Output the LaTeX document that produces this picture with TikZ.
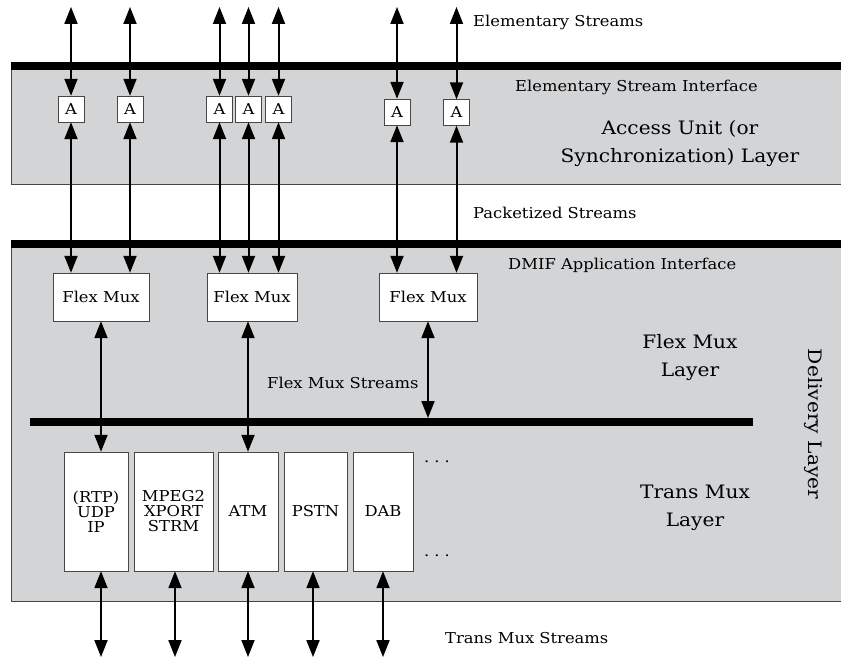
\documentclass[tikz,border=0pt]{standalone}
\usepackage{fontspec}
\setmainfont[FakeStretch=1.09]{DejaVu Serif}
\usepackage{tikz}
\usetikzlibrary{arrows.meta}
\definecolor{layergray}{RGB}{211,212,214}
\definecolor{edgegray}{RGB}{70,70,70}
\newcommand{\smallfont}{\fontsize{15}{15}\selectfont}
\newcommand{\bigfont}{\fontsize{18.5}{28}\selectfont}

\begin{document}
\begin{tikzpicture}[x=1pt,y=-1pt]

\tikzset{layer/.style={draw=edgegray,line width=0.9pt},
    bus/.style={line width=8pt,black},
    abox/.style={draw=edgegray,fill=white,minimum width=26pt,minimum height=26pt,inner sep=0pt,font=\smallfont},
    fmbox/.style={draw=edgegray,fill=white,minimum height=48pt,inner sep=0pt,font=\smallfont},
    tmbox/.style={draw=edgegray,fill=white,minimum height=119pt,inner sep=0pt,align=center,font=\smallfont},
    stream/.style={line width=2pt,{Triangle[length=17pt,width=13pt]}-{Triangle[length=17pt,width=13pt]}},
    lbl/.style={anchor=west,inner sep=0pt,font=\smallfont},
    biglbl/.style={align=center,inner sep=0pt,font=\bigfont}}

\useasboundingbox (0,0) rectangle (841,658);
\clip (0,0) rectangle (841,658);
\fill[white] (0,0) rectangle (841,658);

\fill[layergray] (11,66) rectangle (850,184);
\draw[layer] (11,66) -- (11,184) -- (850,184);
\draw[bus] (11,66) -- (850,66);

\fill[layergray] (11,244) rectangle (850,601);
\draw[layer] (11,244) -- (11,601) -- (850,601);
\draw[bus] (11,244) -- (850,244);

\coordinate (busl) at (30,422);
\coordinate (busr) at (753,422);
\draw[bus] (busl) -- (busr);

\node[abox] (a1) at (71,109) {A};
\node[abox] (a2) at (130,109) {A};
\node[abox] (a3) at (219.5,109) {A};
\node[abox] (a4) at (248.5,109) {A};
\node[abox] (a5) at (278.5,109) {A};
\node[abox] (a6) at (397,112) {A};
\node[abox] (a7) at (456.5,112.5) {A};

\node[fmbox,minimum width=96pt] (fm1) at (101,297) {Flex Mux};
\node[fmbox,minimum width=90pt] (fm2) at (252,297) {Flex Mux};
\node[fmbox,minimum width=98pt] (fm3) at (428,297) {Flex Mux};

\node[tmbox,minimum width=64pt] (rtp) at (96,511.5) {(RTP)\\UDP\\IP};
\node[tmbox,minimum width=79pt] (mpeg) at (173.5,511.5) {MPEG2\\XPORT\\STRM};
\node[tmbox,minimum width=60pt] (atm) at (248,511.5) {ATM};
\node[tmbox,minimum width=63pt] (pstn) at (315.5,511.5) {PSTN};
\node[tmbox,minimum width=60pt] (dab) at (383,511.5) {DAB};

\node[font=\smallfont] (dotsa) at (437,462) {.\,\,.\,\,.};
\node[font=\smallfont] (dotsb) at (437,556) {.\,\,.\,\,.};

\foreach \i in {1,...,7}
    \draw[stream] (a\i.north |- 0,7) -- (a\i.north);

\draw[stream] (a1.south) -- (a1.south |- fm1.north);
\draw[stream] (a2.south) -- (a2.south |- fm1.north);
\draw[stream] (a3.south) -- (a3.south |- fm2.north);
\draw[stream] (a4.south) -- (a4.south |- fm2.north);
\draw[stream] (a5.south) -- (a5.south |- fm2.north);
\draw[stream] (a6.south) -- (a6.south |- fm3.north);
\draw[stream] (a7.south) -- (a7.south |- fm3.north);

\draw[stream] (fm1.south) -- (fm1.south |- rtp.north);
\draw[stream] (atm.north |- fm2.south) -- (atm.north);
\draw[stream] (fm3.south) -- ([yshift=4pt]fm3.south |- busl);

\coordinate (ts1) at (101,657);
\coordinate (ts2) at (175,657);
\coordinate (ts3) at (248,657);
\coordinate (ts4) at (313,657);
\coordinate (ts5) at (383,657);
\draw[stream] (ts1 |- rtp.south) -- (ts1);
\draw[stream] (ts2 |- mpeg.south) -- (ts2);
\draw[stream] (ts3 |- atm.south) -- (ts3);
\draw[stream] (ts4 |- pstn.south) -- (ts4);
\draw[stream] (ts5 |- dab.south) -- (ts5);

\node[lbl] (es) at (473,22) {Elementary Streams};
\node[lbl] (esi) at (515,87) {Elementary Stream Interface};
\node[biglbl] (aul) at (680,143.5) {Access Unit (or\\Synchronization) Layer};
\node[lbl] (ps) at (473,213) {Packetized Streams};
\node[lbl] (dmif) at (508,265) {DMIF Application Interface};
\node[biglbl] (fml) at (690,357.5) {Flex Mux\\Layer};
\node[lbl] (fms) at (267,383) {Flex Mux Streams};
\node[biglbl] (tml) at (695,507.5) {Trans Mux\\Layer};
\node[biglbl,rotate=-90] (dl) at (813,424) {Delivery Layer};
\node[lbl] (tms) at (445,638) {Trans Mux Streams};

\end{tikzpicture}
\end{document}
